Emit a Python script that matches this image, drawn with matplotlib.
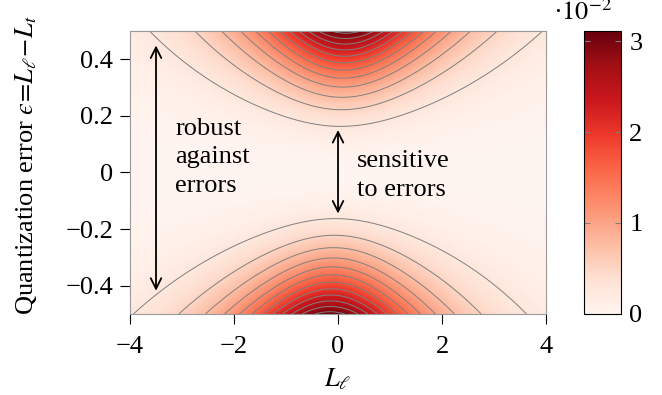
import numpy as np
import matplotlib
matplotlib.use("Agg")
import matplotlib.pyplot as plt
from matplotlib.ticker import FuncFormatter

plt.rcParams['font.family'] = ['Liberation Serif', 'DejaVu Serif']
plt.rcParams['mathtext.fontset'] = 'stix'
plt.rcParams['font.size'] = 19

# model of the error landscape
peak = 0.0311          # maximum value (at eps = +-0.5)
eps_power = 2.25       # growth with |eps|
width = 0.88           # decay scale along L
tail = 0.7             # exponent of the sech profile
shift = 0.31           # drift of the ridge centre with eps

levels = [0.0025, 0.005, 0.0075, 0.01, 0.0125, 0.015,
          0.0175, 0.02, 0.0225, 0.025, 0.0275, 0.03]
cbar_ticks = [0, 0.01, 0.02, 0.03]
cbar_labels = ['0', '1', '2', '3']
x_ticks = [-4, -2, 0, 2, 4]
y_ticks = [-0.4, -0.2, 0, 0.2, 0.4]

robust_x = -3.5
robust_y = [0.449, -0.418]
sensitive_x = 0.0
sensitive_y = [0.15, -0.145]

L = np.linspace(-4, 4, 401)
eps = np.linspace(-0.5, 0.5, 251)
LL, EE = np.meshgrid(L, eps)
Z = peak * (np.abs(EE) / 0.5) ** eps_power / np.cosh((LL - shift * EE) / width) ** tail

fig = plt.figure(figsize=(6.62, 3.95), dpi=100)
ax = fig.add_axes([0.1964, 0.2051, 0.6284, 0.7164])
cax = fig.add_axes([0.8822, 0.2051, 0.0559, 0.7164])

im = ax.pcolormesh(LL, EE, Z, cmap='Reds', vmin=0, vmax=peak, shading='gouraud')
ax.contour(LL, EE, Z, levels=levels, colors='0.5', linewidths=0.7)

ax.set_xlim(-4, 4)
ax.set_ylim(-0.5, 0.5)
ax.set_xticks(x_ticks)
ax.set_yticks(y_ticks)
fmt = FuncFormatter(lambda v, p: ('%g' % v).replace('-', '\u2212'))
ax.xaxis.set_major_formatter(fmt)
ax.yaxis.set_major_formatter(fmt)
ax.tick_params(direction='out', length=7, width=0.8, color='black', pad=5)
ax.tick_params(axis='x', pad=9)
for s in ax.spines.values():
    s.set_color('0.6')
    s.set_linewidth(0.8)

ax.set_xlabel(r'$L_\ell$', labelpad=6)
fig.text(26 / 662, 1 - 165 / 395,
         'Quantization error $\u03f5\\!=\\!L_\\ell\\!-\\!L_t$',
         rotation=90, ha='center', va='center')

# arrows marking the two regimes
ax.annotate('', xy=(robust_x, robust_y[0]), xytext=(robust_x, robust_y[1]),
            arrowprops=dict(arrowstyle='<->', lw=1.3, color='black',
                            shrinkA=0, shrinkB=0))
ax.annotate('', xy=(sensitive_x, sensitive_y[0]), xytext=(sensitive_x, sensitive_y[1]),
            arrowprops=dict(arrowstyle='<->', lw=1.3, color='black',
                            shrinkA=0, shrinkB=0))
ax.text(-3.13, 0.053, 'robust\nagainst\nerrors', ha='left', va='center',
        linespacing=1.4)
ax.text(0.36, -0.01, 'sensitive\nto errors', ha='left', va='center',
        linespacing=1.4)

cb = fig.colorbar(im, cax=cax, ticks=cbar_ticks)
cb.ax.set_yticklabels(cbar_labels)
cb.outline.set_edgecolor('black')
cb.outline.set_linewidth(0.8)
cax.tick_params(direction='in', left=True, right=True, length=4,
                width=0.8, color='0.5', pad=6)
cax.text(0.76, 1.02, '\u00b7$10^{-2}$', transform=cax.transAxes,
         ha='right', va='bottom')

fig.savefig('out.png', dpi=100)
